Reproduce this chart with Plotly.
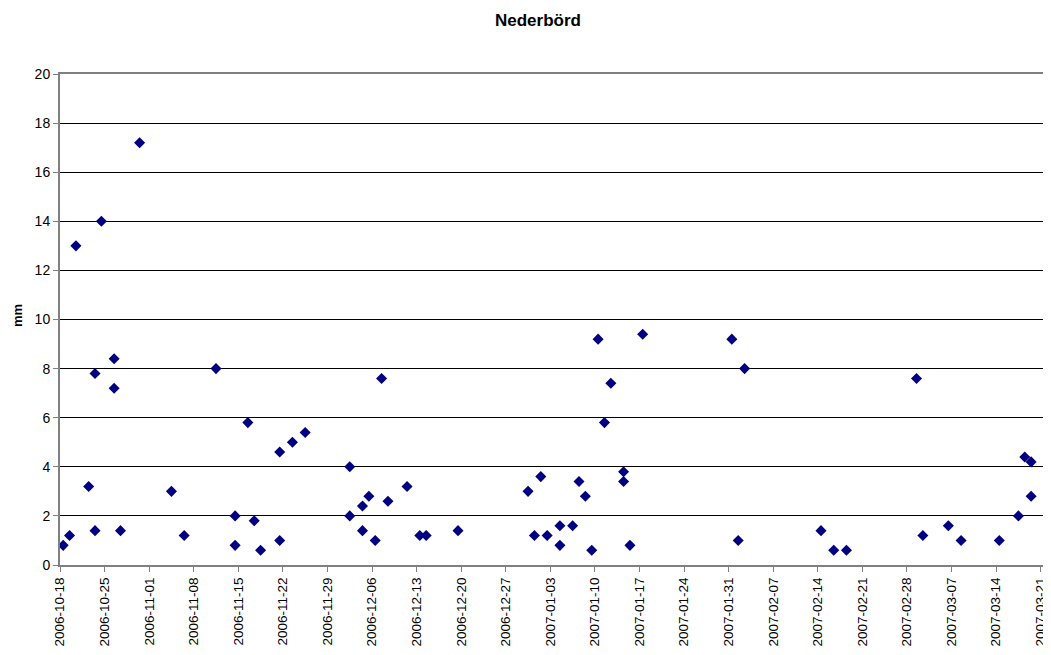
import pandas as pd
import plotly.graph_objects as go

dates = [
    "2006-10-18", "2006-10-19", "2006-10-20", "2006-10-22", "2006-10-23", "2006-10-23",
    "2006-10-24", "2006-10-26", "2006-10-26", "2006-10-27", "2006-10-30", "2006-11-04",
    "2006-11-06", "2006-11-11", "2006-11-14", "2006-11-14", "2006-11-16", "2006-11-17",
    "2006-11-18", "2006-11-21", "2006-11-21", "2006-11-23", "2006-11-25", "2006-12-02",
    "2006-12-02", "2006-12-04", "2006-12-04", "2006-12-05", "2006-12-06", "2006-12-07",
    "2006-12-08", "2006-12-11", "2006-12-13", "2006-12-14", "2006-12-19", "2006-12-30",
    "2006-12-31", "2007-01-01", "2007-01-02", "2007-01-04", "2007-01-04", "2007-01-06",
    "2007-01-07", "2007-01-08", "2007-01-09", "2007-01-10", "2007-01-11", "2007-01-12",
    "2007-01-14", "2007-01-14", "2007-01-15", "2007-01-17", "2007-01-31", "2007-02-01",
    "2007-02-02", "2007-02-14", "2007-02-16", "2007-02-18", "2007-03-01", "2007-03-02",
    "2007-03-06", "2007-03-08", "2007-03-14", "2007-03-17", "2007-03-18", "2007-03-19",
    "2007-03-19",
]
nederbord_mm = [
    0.8, 1.2, 13.0, 3.2, 7.8, 1.4,
    14.0, 8.4, 7.2, 1.4, 17.2, 3.0,
    1.2, 8.0, 2.0, 0.8, 5.8, 1.8,
    0.6, 4.6, 1.0, 5.0, 5.4, 4.0,
    2.0, 2.4, 1.4, 2.8, 1.0, 7.6,
    2.6, 3.2, 1.2, 1.2, 1.4, 3.0,
    1.2, 3.6, 1.2, 1.6, 0.8, 1.6,
    3.4, 2.8, 0.6, 9.2, 5.8, 7.4,
    3.8, 3.4, 0.8, 9.4, 9.2, 1.0,
    8.0, 1.4, 0.6, 0.6, 7.6, 1.2,
    1.6, 1.0, 1.0, 2.0, 4.4, 4.2,
    2.8,
]
y_ticks = [0, 2, 4, 6, 8, 10, 12, 14, 16, 18, 20]

# points are centred within their day (Excel date axis)
x_vals = pd.to_datetime(dates) + pd.Timedelta(hours=12)

start = pd.Timestamp("2006-10-18")
end = start + pd.Timedelta(days=155.62)

font = "Arial, Liberation Sans, sans-serif"

fig = go.Figure()
fig.add_trace(go.Scatter(
    x=x_vals, y=nederbord_mm, mode="markers",
    marker=dict(symbol="diamond", size=8.5, color="#000080",
                line=dict(width=0)),
    showlegend=False,
))

# page body has an 8px default margin; size the figure so the page does not scroll
fig.update_layout(
    width=1043, height=639,
    margin=dict(l=52, r=0, t=66, b=82),
    paper_bgcolor="white", plot_bgcolor="white",
    font=dict(family=font, color="black"),
    xaxis=dict(
        type="date", range=[start, end], autorange=False,
        tick0="2006-10-18", dtick=7 * 24 * 3600 * 1000,
        tickformat="%Y-%m-%d", tickangle=-90,
        tickfont=dict(size=13.5, family=font, color="black"),
        ticks="outside", ticklen=5, tickcolor="#808080", tickwidth=1,
        showgrid=False, zeroline=False,
        showline=True, linecolor="#808080", linewidth=2, mirror=True,
        automargin=False,
    ),
    yaxis=dict(
        range=[0, 20], autorange=False,
        tickvals=y_ticks,
        tickfont=dict(size=14, family=font, color="black"),
        ticks="outside", ticklen=5, tickcolor="#808080", tickwidth=1,
        showgrid=True, gridcolor="black", gridwidth=1,
        zeroline=False,
        showline=True, linecolor="#808080", linewidth=2,
        automargin=False,
    ),
    annotations=[
        dict(text="<b>Nederbörd</b>", xref="paper", yref="paper",
             x=(538 - 60) / 991, y=1 + (74 - 20) / 491,
             xanchor="center", yanchor="middle", showarrow=False,
             font=dict(size=17, family=font, color="black")),
        dict(text="<b>mm</b>", xref="paper", yref="paper",
             x=(17 - 60) / 991, y=(565 - 316) / 491,
             xanchor="center", yanchor="middle", showarrow=False,
             textangle=-90,
             font=dict(size=13, family=font, color="black")),
    ],
)

fig.write_html("out.html")
